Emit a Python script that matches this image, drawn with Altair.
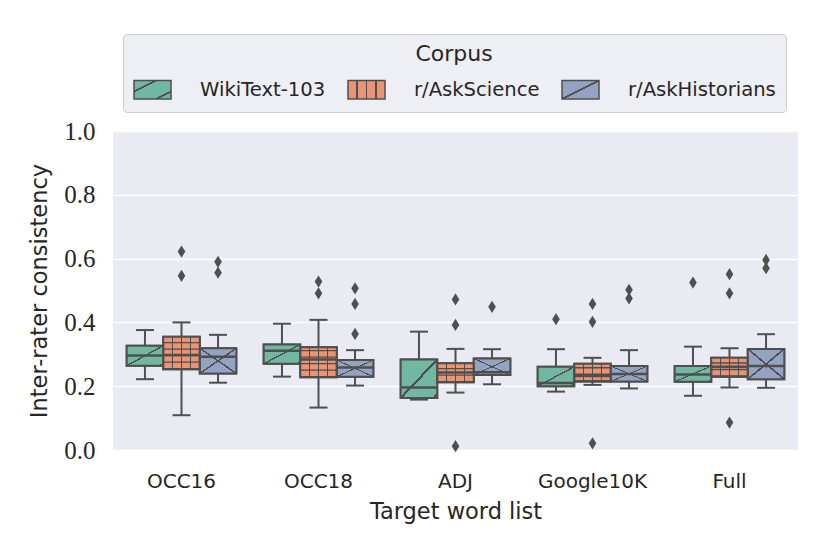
import json
import altair as alt
import pandas as pd

categories = ["OCC16", "OCC18", "ADJ", "Google10K", "Full"]
corpora = ["WikiText-103", "r/AskScience", "r/AskHistorians"]
colors = ["#71b7a1", "#e99575", "#95a3c3"]

# box statistics, ordered category-major, corpus-minor
whisker_low = [0.222, 0.109, 0.211,  0.230, 0.133, 0.202,  0.158, 0.180, 0.206,  0.183, 0.204, 0.193,  0.170, 0.196, 0.195]
q1          = [0.264, 0.253, 0.240,  0.270, 0.228, 0.230,  0.163, 0.212, 0.235,  0.200, 0.215, 0.215,  0.214, 0.230, 0.222]
median      = [0.296, 0.298, 0.292,  0.311, 0.284, 0.259,  0.196, 0.243, 0.244,  0.210, 0.232, 0.238,  0.237, 0.261, 0.263]
q3          = [0.327, 0.355, 0.319,  0.331, 0.322, 0.282,  0.284, 0.272, 0.287,  0.261, 0.270, 0.263,  0.263, 0.289, 0.317]
whisker_high= [0.376, 0.400, 0.361,  0.396, 0.408, 0.313,  0.371, 0.317, 0.316,  0.316, 0.289, 0.313,  0.324, 0.319, 0.363]

outlier_cat = ["OCC16", "OCC16", "OCC16", "OCC16",
               "OCC18", "OCC18", "OCC18", "OCC18", "OCC18",
               "ADJ", "ADJ", "ADJ", "ADJ",
               "Google10K", "Google10K", "Google10K", "Google10K", "Google10K", "Google10K",
               "Full", "Full", "Full", "Full", "Full", "Full"]
outlier_corpus = ["r/AskScience", "r/AskScience", "r/AskHistorians", "r/AskHistorians",
                  "r/AskScience", "r/AskScience", "r/AskHistorians", "r/AskHistorians", "r/AskHistorians",
                  "r/AskScience", "r/AskScience", "r/AskScience", "r/AskHistorians",
                  "WikiText-103", "r/AskScience", "r/AskScience", "r/AskScience", "r/AskHistorians", "r/AskHistorians",
                  "WikiText-103", "r/AskScience", "r/AskScience", "r/AskScience", "r/AskHistorians", "r/AskHistorians"]
outlier_val = [0.622, 0.546, 0.590, 0.556,
               0.528, 0.491, 0.507, 0.458, 0.364,
               0.472, 0.392, 0.012, 0.449,
               0.410, 0.458, 0.402, 0.021, 0.502, 0.475,
               0.525, 0.551, 0.491, 0.086, 0.596, 0.570]

rows = []
i = 0
for c in categories:
    for k in corpora:
        rows.append(dict(category=c, corpus=k, lo=whisker_low[i], q1=q1[i],
                         med=median[i], q3=q3[i], hi=whisker_high[i]))
        i += 1
box_df = pd.DataFrame(rows)
out_df = pd.DataFrame(dict(category=outlier_cat, corpus=outlier_corpus, value=outlier_val))

EDGE = "#4f4f4f"
CLEAR = "rgba(79,79,79,0)"
SANS = "DejaVu Sans"
SERIF = "'Liberation Serif', 'Times New Roman', 'DejaVu Serif', serif"


def stripes(base, centers, w, x1, y1, x2, y2):
    """Hard-stop linear gradient: thin EDGE-coloured stripes on a base colour."""
    stops = [{"offset": 0, "color": base}]
    for c in centers:
        a, b = max(c - w / 2, 0), min(c + w / 2, 1)
        stops += [{"offset": a, "color": base}, {"offset": a, "color": EDGE},
                  {"offset": b, "color": EDGE}, {"offset": b, "color": base}]
    stops.append({"offset": 1, "color": base})
    return {"gradient": "linear", "x1": x1, "y1": y1, "x2": x2, "y2": y2, "stops": stops}


# hatch fills used for the legend swatches (and under the box hatching)
legend_fills = [
    stripes(colors[0], [0.3, 0.8], 0.06, 0, 0, 1, 1),
    stripes(colors[1], [0.25, 0.5, 0.75], 0.05, 0, 0, 1, 0),
    stripes(colors[2], [0.5], 0.06, 0, 0, 1, 1),
]
color_range = [alt.ExprRef(expr=json.dumps(f)) for f in legend_fills]

x_enc = alt.X("category:N", sort=categories,
              scale=alt.Scale(paddingInner=0.2, paddingOuter=0.1),
              axis=alt.Axis(title="Target word list", labelAngle=0))
xo_enc = alt.XOffset("corpus:N", sort=corpora,
                     scale=alt.Scale(domain=corpora, paddingInner=0, paddingOuter=0))
y_scale = alt.Scale(domain=[0, 1])


def Y(field):
    return alt.Y(field, scale=y_scale,
                 axis=alt.Axis(title="Inter-rater consistency",
                               values=[0, 0.2, 0.4, 0.6, 0.8, 1.0], format=".1f"))


base = alt.Chart(box_df).encode(x=x_enc, xOffset=xo_enc)
wiki = base.transform_filter(alt.datum.corpus == corpora[0])
sci = base.transform_filter(alt.datum.corpus == corpora[1])
hist = base.transform_filter(alt.datum.corpus == corpora[2])

whisk_low = base.mark_rule(color=EDGE, strokeWidth=2).encode(y=Y("lo:Q"), y2="q1:Q")
whisk_high = base.mark_rule(color=EDGE, strokeWidth=2).encode(y=Y("q3:Q"), y2="hi:Q")
cap_low = base.mark_tick(color=EDGE, size=18, thickness=2, opacity=1).encode(y=Y("lo:Q"))
cap_high = base.mark_tick(color=EDGE, size=18, thickness=2, opacity=1).encode(y=Y("hi:Q"))

boxes = base.mark_bar(stroke=EDGE, strokeWidth=2, opacity=1).encode(
    y=Y("q1:Q"), y2="q3:Q",
    fill=alt.Fill("corpus:N", sort=corpora,
                  scale=alt.Scale(domain=corpora, range=color_range),
                  legend=alt.Legend(title="Corpus", orient="none", legendX=10, legendY=-97,
                                    direction="horizontal", titleAnchor="middle",
                                    titleOrient="top", titleFont=SANS, titleFontSize=22,
                                    titleFontWeight="normal", titleColor="#262626",
                                    titlePadding=4,
                                    labelFont=SANS, labelFontSize=19.6, labelColor="#262626",
                                    labelOffset=28, columnPadding=19,
                                    symbolType="M-1,-0.5H1V0.5H-1Z", symbolSize=1369,
                                    symbolStrokeColor=EDGE, symbolStrokeWidth=1.5,
                                    symbolOpacity=1,
                                    padding=10, fillColor="#eeeef5", strokeColor="#cccccc",
                                    cornerRadius=4)))

# hatching
hatch_wiki = wiki.mark_bar(opacity=1, fill=stripes(colors[0], [0.5, 0.95], 0.04, 0, 0, 1, 1)).encode(
    y=Y("q1:Q"), y2="q3:Q")
hatch_sci_v = sci.mark_bar(opacity=1, fill=stripes(colors[1], [0.25, 0.5, 0.75], 0.04, 0, 0, 1, 0)).encode(
    y=Y("q1:Q"), y2="q3:Q")
hatch_sci_h = sci.mark_rule(color=EDGE, strokeWidth=36.5, strokeDash=[1.3, 5.2], strokeCap="butt").encode(
    y=Y("q1:Q"), y2="q3:Q")
hatch_hist_a = hist.mark_bar(opacity=1, fill=stripes(colors[2], [0.5], 0.035, 0, 0, 1, 1)).encode(
    y=Y("q1:Q"), y2="q3:Q")
hatch_hist_b = hist.mark_bar(opacity=1, fill=stripes(CLEAR, [0.5], 0.035, 0, 1, 1, 0)).encode(
    y=Y("q1:Q"), y2="q3:Q")

outline = base.mark_bar(fillOpacity=0, stroke=EDGE, strokeWidth=2).encode(y=Y("q1:Q"), y2="q3:Q")
med = base.mark_tick(color=EDGE, size=36.5, thickness=2.5, opacity=1).encode(y=Y("med:Q"))

outliers = alt.Chart(out_df).mark_point(
    shape="M0,-1L0.62,0L0,1L-0.62,0Z", filled=True, color=EDGE, opacity=1, size=150
).encode(x=alt.X("category:N", sort=categories),
         xOffset=alt.XOffset("corpus:N", sort=corpora),
         y=Y("value:Q"))

chart = alt.layer(whisk_low, whisk_high, cap_low, cap_high, boxes,
                  hatch_wiki, hatch_sci_v, hatch_sci_h, hatch_hist_a, hatch_hist_b,
                  med, outline, outliers).properties(
    width=685, height=319,
    autosize=alt.AutoSizeParams(type="none"),
    padding={"left": 105, "top": 123, "right": 24, "bottom": 90},
    background="white",
).configure_view(fill="#eaeaf2", stroke=None).configure_axis(
    domain=False, ticks=False, grid=False, labelColor="#262626", titleColor="#262626",
    titleFontWeight="normal"
).configure_axisX(
    labelFont=SANS, labelFontSize=20, labelPadding=21, titleFont=SANS, titleFontSize=22.5,
    titlePadding=9
).configure_axisY(
    grid=True, gridColor="white", gridWidth=1.6,
    labelFont=SERIF, labelFontSize=25, labelPadding=18, titleFont=SANS, titleFontSize=22.5,
    titlePadding=12
)

chart.save("out.html", embed_options={"renderer": "svg", "actions": False})
